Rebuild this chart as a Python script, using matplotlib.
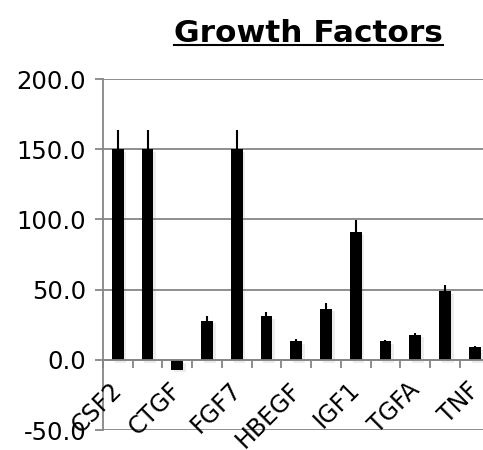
import matplotlib
matplotlib.use('Agg')
import matplotlib.pyplot as plt
import matplotlib.patheffects as pe
import matplotlib.transforms as mtransforms
import numpy as np

# growth factor panel (only every second label is shown on the axis, as in the original)
genes = ['CSF2', 'CSF3', 'CTGF', 'FGF2', 'FGF7', 'HGF', 'HBEGF', 'IGF1_a',
         'IGF1', 'PDGFA', 'TGFA', 'TGFB1', 'TNF']
fold_change = [150.0, 150.0, -7.0, 28.0, 150.0, 31.0, 13.6, 36.5, 90.7, 13.3, 17.9, 48.8, 8.8]
error_up = [14.0, 14.0, 1.0, 3.0, 14.0, 3.0, 1.5, 4.3, 8.6, 1.0, 1.5, 4.5, 0.8]

y_ticks = [-50, 0, 50, 100, 150, 200]

plt.rcParams['font.family'] = ['DejaVu Sans']
grey = '#868686'

fig = plt.figure(figsize=(4.83, 4.5), dpi=100)
ax = fig.add_axes([0.213, 0.0444, 0.8007, 0.78])

x = np.arange(len(genes))
bars = ax.bar(x, fold_change, width=0.4, color='black', zorder=3)
for b in bars:
    b.set_path_effects([pe.SimplePatchShadow(offset=(2, -2), alpha=0.15, shadow_rgbFace='gray'), pe.Normal()])
ax.errorbar(x, fold_change, yerr=[np.zeros(len(error_up)), error_up], fmt='none',
            ecolor='black', elinewidth=1.5, capsize=0, zorder=4)

ax.set_xlim(-0.5, len(genes) - 0.5)
ax.set_ylim(-50, 200)
ax.set_yticks(y_ticks)
ax.set_yticklabels(['%.1f' % v for v in y_ticks], fontsize=17.5)
ax.yaxis.grid(True, color=grey, linewidth=1.3, zorder=0)
ax.tick_params(axis='y', length=6, width=1.3, color=grey, pad=6)

for s in ['top', 'right']:
    ax.spines[s].set_visible(False)
ax.spines['left'].set_color(grey)
ax.spines['left'].set_linewidth(1.3)
ax.spines['bottom'].set_position(('data', 0))
ax.spines['bottom'].set_color(grey)
ax.spines['bottom'].set_linewidth(1.3)
ax.spines['bottom'].set_zorder(5)

# category labels: every second one, rotated, hung below the zero line
ax.set_xticks(x)
ax.set_xticklabels([])
ax.tick_params(axis='x', which='major', length=0)
ax.set_xticks(np.arange(len(genes) + 1) - 0.5, minor=True)
ax.tick_params(axis='x', which='minor', length=6, width=1.3, color=grey)
offset = mtransforms.ScaledTranslation(-8 / 100, -18 / 100, fig.dpi_scale_trans)
for i, g in enumerate(genes):
    if i % 2 == 0:
        ax.text(i, 0, g, transform=ax.transData + offset, fontsize=17, rotation=45,
                ha='right', va='top', rotation_mode='anchor', clip_on=False)

title = fig.text(0.638, 1 - 42 / 450, 'Growth Factors', fontsize=22.5, fontweight='bold',
                 ha='center', va='baseline')
fig.canvas.draw()
bb = title.get_window_extent().transformed(fig.transFigure.inverted())
uy = 1 - 45 / 450
fig.add_artist(plt.Line2D([bb.x0, bb.x1], [uy, uy], color='black', linewidth=1.5))

fig.savefig('out.png', dpi=100)
